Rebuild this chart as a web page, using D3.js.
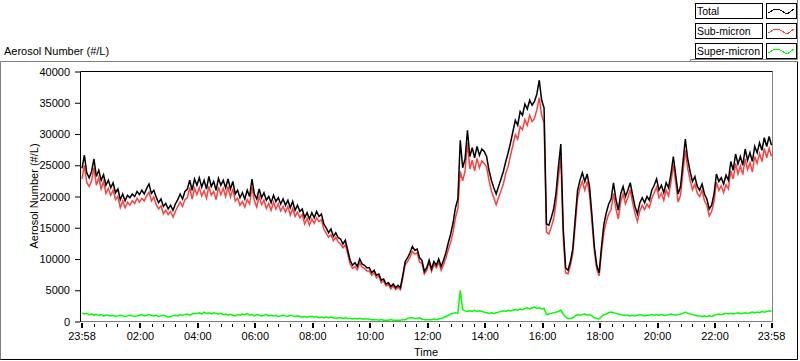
<!DOCTYPE html>
<html>
<head>
<meta charset="utf-8">
<script src="https://cdn.jsdelivr.net/npm/d3@7"></script>
<style>
	body { margin: 0; background: #fff; }
	text { font-family: "Liberation Sans", Arial, sans-serif; font-size: 11px; fill: #000; }
</style>
</head>
<body>
<svg id="chart" width="800" height="361"></svg>
<script>
// Aerosol number concentration, thousands of particles per litre, one value every 5 minutes from 23:58
const totalK = [
	24.5, 26.6, 23.8, 23.0, 24.0, 26.0, 23.2, 24.2, 22.6, 23.5, 21.8, 22.6,
	21.4, 22.2, 20.6, 21.2, 19.5, 20.4, 19.3, 20.2, 19.8, 20.4, 20.0, 20.8,
	20.3, 21.0, 20.4, 21.3, 22.0, 20.5, 21.0, 19.9, 19.0, 19.6, 18.4, 18.9,
	18.0, 18.6, 17.8, 18.8, 19.5, 20.4, 19.6, 20.8, 21.2, 22.6, 21.0, 22.8,
	21.8, 23.0, 21.5, 22.6, 21.2, 23.2, 21.6, 22.4, 21.0, 22.9, 21.8, 22.6,
	21.4, 22.8, 21.2, 22.4, 20.4, 21.0, 19.8, 20.6, 19.6, 21.0, 20.0, 22.8,
	20.4, 19.6, 21.2, 19.8, 20.6, 19.4, 20.0, 19.0, 20.2, 19.2, 19.8, 18.8,
	19.6, 18.6, 19.4, 18.2, 19.2, 17.8, 18.6, 17.6, 18.0, 16.6, 17.4, 16.4,
	17.4, 16.6, 17.6, 16.8, 17.2, 15.6, 15.0, 14.2, 14.8, 13.6, 14.2, 13.4,
	13.2, 12.4, 13.0, 11.4, 9.8, 9.0, 9.4, 8.8, 10.0, 9.2, 9.0, 8.6,
	8.6, 7.8, 8.2, 7.4, 7.6, 6.6, 6.8, 6.0, 6.2, 5.6, 6.0, 5.4,
	5.8, 5.4, 7.4, 9.6, 10.2, 11.0, 12.0, 11.4, 11.6, 10.2, 9.8, 8.0,
	8.6, 9.8, 8.4, 9.6, 9.0, 10.0, 8.8, 9.8, 11.0, 12.6, 14.0, 15.8,
	18.2, 19.6, 29.0, 24.6, 26.0, 30.6, 26.4, 27.8, 26.2, 28.0, 26.6, 27.6,
	27.2, 26.4, 24.2, 22.6, 21.4, 20.4, 21.6, 22.8, 24.0, 25.6, 27.0, 28.6,
	30.4, 32.2, 31.4, 33.6, 33.0, 34.8, 34.0, 35.4, 34.6, 35.2, 36.4, 38.6,
	35.4, 34.2, 15.6, 15.4, 16.6, 18.0, 20.6, 24.8, 28.4, 15.0, 8.6, 8.2,
	9.6, 11.6, 16.4, 21.0, 22.6, 23.8, 22.4, 23.6, 21.6, 17.0, 12.0, 9.0,
	7.8, 12.0, 15.6, 17.4, 18.8, 19.6, 22.2, 19.6, 17.8, 20.4, 21.6, 20.0,
	21.0, 22.2, 20.2, 18.4, 17.2, 19.0, 19.8, 19.0, 20.0, 19.4, 21.0, 21.8,
	22.8, 21.0, 21.8, 20.6, 22.2, 21.4, 23.6, 26.4, 23.4, 20.4, 21.6, 25.4,
	29.2, 26.0, 24.0, 22.4, 23.2, 21.6, 21.0, 22.0, 20.4, 19.6, 18.0, 18.6,
	20.4, 23.6, 22.4, 23.0, 22.0, 23.4, 22.6, 25.6, 24.2, 26.8, 25.2, 26.4,
	25.0, 27.6, 25.8, 27.0, 25.6, 28.0, 27.0, 28.6, 27.4, 29.4, 28.0, 29.6, 28.2
];

const subMicronK = [
	22.8, 25.0, 22.2, 21.6, 22.5, 24.6, 21.8, 23.0, 21.2, 22.4, 20.5, 21.3,
	20.2, 21.0, 19.5, 20.0, 18.2, 19.3, 18.2, 19.1, 18.6, 19.3, 18.9, 19.7,
	19.1, 19.7, 19.3, 20.1, 20.7, 19.3, 19.9, 18.7, 18.0, 18.5, 17.2, 17.8,
	17.1, 17.6, 16.7, 17.6, 18.4, 19.1, 18.4, 19.5, 19.8, 21.4, 19.6, 21.3,
	20.3, 21.4, 20.1, 20.9, 19.7, 21.6, 20.2, 20.8, 19.5, 21.5, 20.3, 21.3,
	20.0, 21.6, 19.9, 21.2, 19.3, 19.7, 18.6, 19.2, 18.3, 19.5, 18.8, 21.5,
	19.3, 18.3, 20.0, 18.7, 19.4, 18.1, 18.9, 17.8, 19.1, 18.0, 18.8, 17.7,
	18.4, 17.5, 18.4, 17.0, 18.1, 16.8, 17.5, 16.6, 17.1, 15.6, 16.5, 15.4,
	16.4, 15.7, 16.6, 16.0, 16.3, 14.8, 14.1, 13.5, 13.9, 12.9, 13.5, 12.7,
	12.4, 11.8, 12.3, 10.8, 9.2, 8.5, 8.8, 8.3, 9.4, 8.7, 8.5, 8.1,
	8.1, 7.4, 7.8, 7.0, 7.3, 6.2, 6.5, 5.7, 5.9, 5.2, 5.7, 5.1,
	5.5, 5.1, 7.0, 9.1, 9.6, 10.3, 11.2, 10.8, 11.0, 9.5, 9.3, 7.6,
	8.2, 9.4, 8.0, 9.1, 8.6, 9.5, 8.2, 9.1, 10.1, 11.5, 12.7, 14.3,
	16.6, 18.1, 24.0, 22.5, 24.0, 28.6, 24.4, 25.8, 24.1, 26.1, 24.6, 25.7,
	25.3, 24.7, 22.6, 20.9, 19.8, 18.7, 19.8, 20.9, 22.0, 23.7, 24.8, 26.6,
	28.2, 29.9, 29.2, 31.2, 30.7, 32.3, 31.4, 33.0, 32.0, 32.5, 33.9, 35.8,
	33.0, 31.8, 14.3, 14.0, 15.1, 16.4, 18.9, 23.0, 26.3, 13.6, 7.8, 7.6,
	9.0, 10.9, 15.3, 19.7, 21.4, 22.4, 21.0, 22.4, 20.3, 15.9, 11.3, 8.4,
	7.3, 11.1, 14.3, 16.0, 17.2, 17.9, 20.5, 18.1, 16.4, 19.1, 20.4, 18.8,
	19.8, 21.1, 19.0, 17.3, 16.0, 17.7, 18.6, 17.9, 18.8, 18.2, 19.7, 20.6,
	21.5, 19.8, 20.5, 19.4, 21.0, 20.1, 22.2, 25.1, 22.2, 19.1, 20.2, 23.9,
	27.4, 24.5, 22.6, 21.1, 22.0, 20.5, 20.0, 21.0, 19.3, 18.6, 16.9, 17.6,
	19.2, 22.3, 21.0, 21.7, 20.6, 21.9, 21.2, 24.1, 22.8, 25.3, 23.6, 24.9,
	23.5, 26.0, 24.3, 25.4, 23.9, 26.4, 25.3, 26.9, 25.6, 27.7, 26.2, 27.7, 26.4
];

const superMicronK = [
	1.3, 1.2, 1.3, 1.1, 1.2, 1.0, 1.1, 1.0, 1.1, 0.9, 1.0, 1.0,
	0.9, 1.0, 0.8, 0.9, 1.0, 0.9, 0.8, 0.9, 1.0, 0.9, 0.8, 0.9,
	1.0, 1.1, 0.9, 1.0, 1.1, 1.0, 0.9, 1.0, 0.8, 0.9, 1.0, 0.9,
	0.7, 0.8, 0.9, 1.0, 0.9, 1.1, 1.0, 1.1, 1.2, 1.0, 1.2, 1.3,
	1.3, 1.4, 1.2, 1.5, 1.3, 1.4, 1.2, 1.4, 1.3, 1.2, 1.3, 1.1,
	1.2, 1.0, 1.1, 1.0, 0.9, 1.1, 1.0, 1.2, 1.1, 1.3, 1.0, 1.1,
	0.9, 1.1, 1.0, 0.9, 1.0, 1.1, 0.9, 1.0, 0.9, 1.0, 0.8, 0.9,
	1.0, 0.9, 0.8, 1.0, 0.9, 0.8, 0.9, 0.8, 0.7, 0.8, 0.7, 0.8,
	0.8, 0.7, 0.8, 0.6, 0.7, 0.6, 0.7, 0.6, 0.7, 0.6, 0.5, 0.6,
	0.6, 0.5, 0.6, 0.5, 0.5, 0.4, 0.5, 0.4, 0.5, 0.4, 0.4, 0.4,
	0.4, 0.3, 0.3, 0.3, 0.2, 0.3, 0.2, 0.2, 0.2, 0.3, 0.2, 0.2,
	0.2, 0.2, 0.3, 0.3, 0.5, 0.6, 0.6, 0.5, 0.5, 0.6, 0.4, 0.3,
	0.3, 0.3, 0.3, 0.4, 0.3, 0.4, 0.5, 0.6, 0.8, 1.0, 1.2, 1.3,
	1.4, 1.3, 5.0, 1.9, 1.7, 1.6, 1.7, 1.6, 1.8, 1.6, 1.7, 1.6,
	1.5, 1.4, 1.3, 1.4, 1.3, 1.4, 1.5, 1.6, 1.7, 1.6, 1.8, 1.7,
	1.8, 1.9, 1.8, 2.0, 1.9, 2.1, 2.2, 2.0, 2.2, 2.3, 2.1, 2.2,
	2.0, 2.1, 1.1, 1.2, 1.3, 1.4, 1.5, 1.6, 1.8, 1.2, 0.7, 0.5,
	0.5, 0.6, 0.9, 1.1, 1.0, 1.1, 1.2, 1.0, 1.1, 0.9, 0.6, 0.5,
	0.4, 0.8, 1.1, 1.2, 1.4, 1.5, 1.4, 1.3, 1.2, 1.1, 1.0, 1.0,
	1.0, 0.9, 1.0, 0.9, 1.0, 1.1, 1.0, 0.9, 1.0, 1.0, 1.1, 1.0,
	1.1, 1.0, 1.1, 1.0, 1.0, 1.1, 1.2, 1.1, 1.0, 1.1, 1.2, 1.3,
	1.5, 1.3, 1.2, 1.1, 1.0, 0.9, 0.9, 0.8, 0.9, 0.8, 0.9, 0.8,
	1.0, 1.1, 1.2, 1.1, 1.2, 1.3, 1.2, 1.3, 1.2, 1.3, 1.4, 1.3,
	1.3, 1.4, 1.3, 1.4, 1.5, 1.4, 1.5, 1.4, 1.6, 1.5, 1.6, 1.7, 1.6
];

const seriesNames = ["Total", "Sub-micron", "Super-micron"];
const seriesColors = ["#000000", "#ff4040", "#00ff00"];
const yTicks = [0, 5000, 10000, 15000, 20000, 25000, 30000, 35000, 40000];
const timeTickLabels = ["23:58", "02:00", "04:00", "06:00", "08:00", "10:00", "12:00",
	"14:00", "16:00", "18:00", "20:00", "22:00", "23:58"];

const startTime = new Date(2000, 0, 1, 23, 58);
const endTime = new Date(2000, 0, 2, 23, 58);
const stepMinutes = 5;

let svg = d3.select("#chart");

// panel frames (grey top/left, dark bottom/right)
svg.append("path")
	.attr("d", "M0.5,360 V61.5 H797")
	.attr("fill", "none")
	.attr("stroke", "#808080");
svg.append("path")
	.attr("d", "M797.5,61.5 V359.5 H0.5")
	.attr("fill", "none")
	.attr("stroke", "#000");
svg.append("path")
	.attr("d", "M690.5,62 V59.5 H797.5 V0")
	.attr("fill", "none")
	.attr("stroke", "#808080");

svg.append("text")
	.attr("x", 4)
	.attr("y", 55)
	.text("Aerosol Number (#/L)");

// scales
let x = d3.scaleTime()
	.domain([startTime, endTime])
	.range([82, 771.5]);

let y = d3.scaleLinear()
	.domain([0, 40000])
	.range([321.5, 71.5]);

let times = totalK.map((d, i) => d3.timeMinute.offset(startTime, i * stepMinutes));

// plot frame
svg.append("path")
	.attr("d", "M772.5,71.5 V321.5 H80.5")
	.attr("fill", "none")
	.attr("stroke", "#808080");
svg.append("path")
	.attr("d", "M80.5,322 V71.5 H772.5")
	.attr("fill", "none")
	.attr("stroke", "#000");

// y axis
let yAxis = svg.append("g")
	.attr("transform", "translate(80,0)")
	.call(d3.axisLeft(y).tickValues(yTicks).tickSize(5).tickPadding(5).tickFormat(d3.format("d")))
	.attr("font-size", null)
	.attr("font-family", null);
yAxis.select(".domain").remove();
yAxis.selectAll(".tick line").attr("stroke", "#000");

svg.append("text")
	.attr("text-anchor", "middle")
	.attr("transform", "translate(38,196) rotate(-90)")
	.text("Aerosol Number (#/L)");

// x axis: major ticks with labels, minor ticks every 24 minutes
let tickDates = timeTickLabels.map(function(t, i) {
	let [h, m] = t.split(":").map(Number);
	return new Date(2000, 0, i === 0 ? 1 : 2, h, m);
});

let minorDates = d3.timeMinute.range(startTime, endTime)
	.filter(d => (d.getHours() * 60 + d.getMinutes()) % 24 === 0)
	.filter(d => d3.min(tickDates, t => Math.abs(x(t) - x(d))) > 4);

svg.append("g")
	.selectAll("line")
	.data(minorDates)
	.enter()
	.append("line")
		.attr("x1", d => Math.round(x(d)) + 0.5)
		.attr("x2", d => Math.round(x(d)) + 0.5)
		.attr("y1", 324)
		.attr("y2", 327)
		.attr("stroke", "#000");

svg.append("g")
	.selectAll("line")
	.data(tickDates)
	.enter()
	.append("line")
		.attr("x1", d => Math.round(x(d)))
		.attr("x2", d => Math.round(x(d)))
		.attr("y1", 323)
		.attr("y2", 328)
		.attr("stroke", "#000")
		.attr("stroke-width", 2);

svg.append("g")
	.selectAll("text")
	.data(timeTickLabels)
	.enter()
	.append("text")
		.attr("x", (d, i) => x(tickDates[i]))
		.attr("y", 340)
		.attr("text-anchor", "middle")
		.text(d => d);

svg.append("text")
	.attr("x", 426)
	.attr("y", 356)
	.attr("text-anchor", "middle")
	.text("Time");

// data lines
let line = d3.line()
	.x((d, i) => x(times[i]))
	.y(d => y(d * 1000));

let seriesData = [totalK, subMicronK, superMicronK];

// draw super, sub, then total on top
[2, 1, 0].forEach(function(k) {
	svg.append("path")
		.datum(seriesData[k])
		.attr("d", line)
		.attr("fill", "none")
		.attr("stroke", seriesColors[k])
		.attr("stroke-width", 1.5)
		.attr("stroke-linejoin", "miter");
});

// legend
let zigzag = [[2, 10], [9, 6], [14, 7], [21, 11], [28, 6]];

let legend = svg.append("g")
	.selectAll("g")
	.data(seriesNames)
	.enter()
	.append("g")
		.attr("transform", (d, i) => "translate(0," + (i * 20) + ")");

legend.append("rect")
	.attr("x", 695.5)
	.attr("y", 3.5)
	.attr("width", 67)
	.attr("height", 15)
	.attr("fill", "#fff")
	.attr("stroke", "#000");

legend.append("text")
	.attr("x", 697)
	.attr("y", 15)
	.style("font-size", "10.5px")
	.text(d => d);

legend.append("rect")
	.attr("x", 766.5)
	.attr("y", 3.5)
	.attr("width", 30)
	.attr("height", 15)
	.attr("fill", "#fff")
	.attr("stroke", "#000");

legend.append("path")
	.attr("d", d3.line()(zigzag.map(p => [766 + p[0], 3 + p[1]])))
	.attr("fill", "none")
	.attr("stroke", (d, i) => seriesColors[i])
	.attr("shape-rendering", "crispEdges");
</script>
</body>
</html>
